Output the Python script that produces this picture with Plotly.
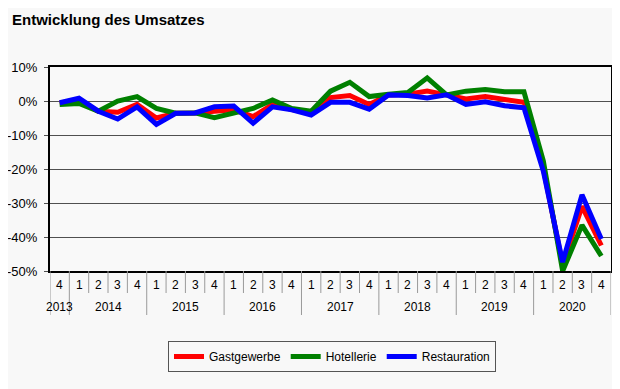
import plotly.graph_objects as go

years = ["2013"] + [y for y in ["2014", "2015", "2016", "2017", "2018", "2019", "2020"] for _ in range(4)]
quarters = ["4"] + ["1", "2", "3", "4"] * 7
y_tick_values = [10, 0, -10, -20, -30, -40, -50]
y_tick_labels = ["10%", "0%", "-10%", "-20%", "-30%", "-40%", "-50%"]

gastgewerbe = [-0.5, 0.0, -3.0, -3.3, -1.0, -5.0, -3.6, -3.5, -3.0, -2.6,
               -4.6, -1.0, -2.5, -3.6, 1.0, 1.6, -1.0, 1.8, 2.0, 2.9,
               1.8, 0.6, 1.3, 0.3, -0.4, -19.8, -48.2, -31.0, -42.5]
hotellerie = [-1.0, -0.7, -3.0, 0.0, 1.3, -2.2, -3.6, -3.5, -4.9, -3.5,
              -2.2, 0.3, -2.2, -3.0, 2.9, 5.5, 1.3, 2.0, 2.5, 6.8,
              1.8, 2.9, 3.4, 2.7, 2.7, -17.6, -50.0, -36.5, -45.6]
restauration = [-0.5, 0.8, -3.0, -5.3, -1.7, -6.9, -3.6, -3.5, -1.7, -1.5,
                -6.5, -1.7, -2.6, -4.1, -0.4, -0.4, -2.4, 1.8, 1.6, 0.9,
                1.8, -1.0, -0.2, -1.4, -2.0, -20.6, -47.4, -27.6, -40.6]

series = [("Gastgewerbe", gastgewerbe, "#ff0000"),
          ("Hotellerie", hotellerie, "#008000"),
          ("Restauration", restauration, "#0000ff")]

n = len(quarters)
xs = list(range(n))
PLOT_H = 204.0  # plot area height in px
OFF = 8  # page body margin offset

fig = go.Figure()
for name, vals, col in series:
    fig.add_trace(go.Scatter(x=xs, y=vals, name=name, mode="lines",
                             line=dict(color=col, width=5)))

shapes = []
annotations = []
tick_col = "#9a9a9a"
for i in range(n + 1):
    long_ = i == 0 or i == n or years[i] != years[i - 1]
    length = 44 if long_ else 22
    shapes.append(dict(type="line", xref="x", yref="paper", x0=i - 0.5, x1=i - 0.5,
                       y0=0, y1=-length / PLOT_H, line=dict(color=tick_col, width=1)))
for i, q in enumerate(quarters):
    annotations.append(dict(x=i, y=-14 / PLOT_H, xref="x", yref="paper", text=q, showarrow=False,
                            xanchor="center", yanchor="middle", font=dict(size=12)))
seen = []
for y in years:
    if y not in seen:
        seen.append(y)
for y in seen:
    idx = [i for i, v in enumerate(years) if v == y]
    annotations.append(dict(x=(idx[0] + idx[-1]) / 2, y=-36 / PLOT_H, xref="x", yref="paper", text=y,
                            showarrow=False, xanchor="center", yanchor="middle", font=dict(size=12)))

fig.update_layout(
    width=620, height=389,
    margin=dict(l=50 - OFF, r=620 - (611 - OFF), t=67 - OFF, b=389 - (271 - OFF), autoexpand=False),
    paper_bgcolor="#f8f8f8", plot_bgcolor="#f9f9f9",
    font=dict(family="Liberation Sans, Arial, sans-serif", size=12, color="#000000"),
    title=dict(text="<b>Entwicklung des Umsatzes</b>", x=(12 - OFF) / 620, xanchor="left",
               y=1 - (20 - OFF) / 389, yanchor="middle", font=dict(size=15, color="#000000")),
    showlegend=True,
    legend=dict(orientation="h", x=(332 - 50) / 561, xanchor="center", y=-(341 - 271) / PLOT_H, yanchor="top",
                bordercolor="#555555", borderwidth=1, bgcolor="#f8f8f8",
                font=dict(size=12), tracegroupgap=0),
    shapes=shapes, annotations=annotations,
)
fig.update_yaxes(range=[-50, 10], tickmode="array", tickvals=y_tick_values, ticktext=y_tick_labels,
                 showgrid=True, gridcolor="#505050",
                 gridwidth=1, zeroline=False, showline=True, linecolor="#000000", linewidth=2,
                 mirror=True, ticks="outside", ticklen=4, tickcolor="#505050",
                 tickfont=dict(size=13), ticklabelstandoff=4)
fig.update_xaxes(range=[-0.5, n - 0.5], showline=True, linecolor="#000000", linewidth=2, mirror=True,
                 showgrid=False, showticklabels=False, ticks="", zeroline=False)

fig.write_html("out.html")
